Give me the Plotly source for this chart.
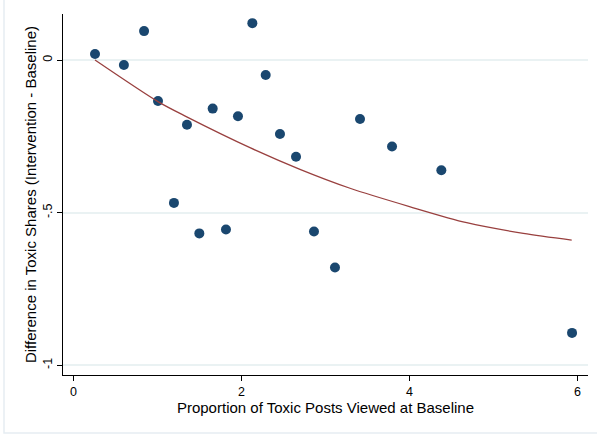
import plotly.graph_objects as go

# Data
baseline_prop = [0.256, 0.60, 0.84, 1.006, 1.196, 1.351, 1.498, 1.657, 1.815, 1.958,
                 2.129, 2.288, 2.458, 2.649, 2.863, 3.113, 3.411, 3.792, 4.379, 5.935]
diff_share = [0.020, -0.016, 0.095, -0.134, -0.468, -0.212, -0.568, -0.159, -0.555, -0.184,
              0.121, -0.049, -0.242, -0.317, -0.562, -0.680, -0.193, -0.283, -0.361, -0.894]

# Fitted curve
fit_x = [0.256, 1.010, 1.348, 2.101, 2.696, 3.292, 4.000, 4.681, 5.355, 5.931]
fit_y = [0.000, -0.137, -0.186, -0.287, -0.358, -0.420, -0.480, -0.533, -0.568, -0.590]

x_ticks = [0, 2, 4, 6]
x_ticklabels = ["0", "2", "4", "6"]
y_ticks = [0, -0.5, -1]
y_ticklabels = ["0", "-.5", "-1"]

fig = go.Figure()
fig.add_trace(go.Scatter(x=baseline_prop, y=diff_share, mode="markers",
                         marker=dict(color="#1a476f", size=10, line=dict(width=0)),
                         showlegend=False))
fig.add_trace(go.Scatter(x=fit_x, y=fit_y, mode="lines",
                         line=dict(color="#99403f", width=1.3, shape="spline", smoothing=0.8),
                         showlegend=False))

font = dict(family="Liberation Sans, Arial, sans-serif", size=12.5, color="#000000")
fig.update_layout(
    width=597, height=436,
    margin=dict(l=63, r=9, t=14, b=61),
    paper_bgcolor="white", plot_bgcolor="white",
    font=font,
    xaxis=dict(range=[-0.125, 6.125], tickvals=x_ticks, ticktext=x_ticklabels,
               showgrid=False, zeroline=False, showline=True, linecolor="black", linewidth=1,
               ticks="outside", ticklen=5, tickcolor="black",
               title=dict(text="Proportion of Toxic Posts Viewed at Baseline", standoff=4)),
    yaxis=dict(range=[-1.032, 0.151], tickvals=y_ticks, ticktext=y_ticklabels,
               tickangle=-90,
               showgrid=True, gridcolor="#eaf2f3", gridwidth=1.5,
               zeroline=False, showline=True, linecolor="black", linewidth=1,
               ticks="outside", ticklen=5, tickcolor="black",
               title=dict(text="Difference in Toxic Shares (Intervention - Baseline)", standoff=0)),
    shapes=[dict(type="rect", xref="paper", yref="paper",
                 x0=-0.1124, x1=1.2, y0=-0.1607, y1=1.2,
                 line=dict(color="#e6edf2", width=1.5), fillcolor="rgba(0,0,0,0)", layer="below")],
)

fig.write_html("out.html")
